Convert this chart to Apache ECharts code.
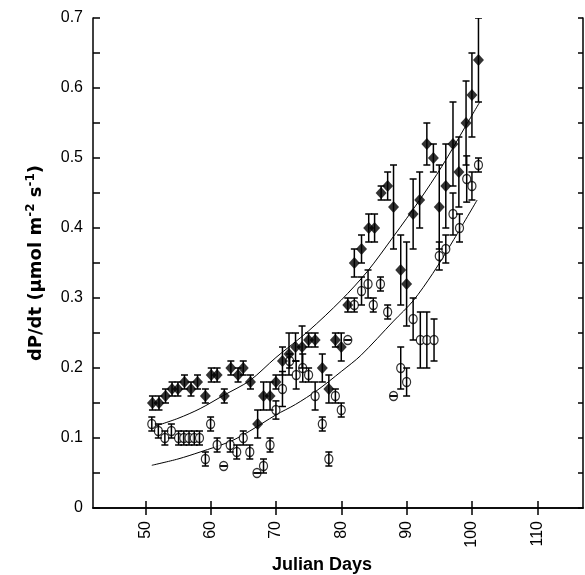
<!DOCTYPE html>
<html>
<head>
<meta charset="utf-8">
<script src="https://cdn.jsdelivr.net/npm/echarts@6/dist/echarts.min.js"></script>
<style>
html,body{margin:0;padding:0;background:#fff;}
#chart{width:585px;height:575px;}
</style>
</head>
<body>
<div id="chart"></div>
<script>
// Filled diamonds
const days1 = [51.1,52.1,53.1,54.1,55.0,56.0,57.0,58.0,59.2,60.1,61.0,62.1,63.1,64.2,65.0,66.1,67.2,68.1,69.1,70.0,71.0,72.0,73.0,74.0,75.0,76.0,77.1,78.1,79.1,80.0,81.0,82.0,83.1,84.2,85.1,86.1,87.1,88.0,89.1,90.0,91.0,92.0,93.1,94.1,95.0,96.0,97.1,98.0,99.1,100.0,101.0];
const vals1 = [0.15,0.15,0.16,0.17,0.17,0.18,0.17,0.18,0.16,0.19,0.19,0.16,0.20,0.19,0.20,0.18,0.12,0.16,0.16,0.18,0.21,0.22,0.23,0.23,0.24,0.24,0.20,0.17,0.24,0.23,0.29,0.35,0.37,0.40,0.40,0.45,0.46,0.43,0.34,0.32,0.42,0.44,0.52,0.50,0.43,0.46,0.52,0.48,0.55,0.59,0.64];
const errs1 = [0.01,0.01,0.01,0.01,0.01,0.01,0.01,0.01,0.01,0.01,0.01,0.01,0.01,0.01,0.01,0.01,0.02,0.02,0.02,0.01,0.02,0.03,0.02,0.03,0.01,0.01,0.02,0.02,0.01,0.02,0.01,0.02,0.02,0.02,0.02,0.01,0.02,0.06,0.05,0.06,0.05,0.04,0.03,0.02,0.06,0.06,0.06,0.05,0.06,0.06,0.06];
// Open circles
const days2 = [51.0,52.0,53.0,54.0,55.1,55.9,56.7,57.5,58.3,59.2,60.0,61.0,62.0,63.0,64.0,65.0,66.0,67.1,68.1,69.1,70.0,71.0,72.1,73.1,74.1,75.0,76.0,77.1,78.1,79.1,80.0,81.0,82.0,83.1,84.1,84.9,86.0,87.1,88.0,89.1,90.0,91.0,92.1,93.1,94.2,95.0,96.0,97.1,98.1,99.2,100.0,101.0];
const vals2 = [0.12,0.11,0.10,0.11,0.10,0.10,0.10,0.10,0.10,0.07,0.12,0.09,0.06,0.09,0.08,0.10,0.08,0.05,0.06,0.09,0.14,0.17,0.21,0.19,0.20,0.19,0.16,0.12,0.07,0.16,0.14,0.24,0.29,0.31,0.32,0.29,0.32,0.28,0.16,0.20,0.18,0.27,0.24,0.24,0.24,0.36,0.37,0.42,0.40,0.47,0.46,0.49];
const errs2 = [0.01,0.01,0.01,0.01,0.01,0.01,0.01,0.01,0.01,0.01,0.01,0.01,0.00,0.01,0.01,0.01,0.01,0.00,0.01,0.01,0.013,0.025,0.01,0.02,0.02,0.01,0.02,0.01,0.01,0.01,0.01,0.00,0.01,0.02,0.02,0.01,0.01,0.01,0.00,0.03,0.02,0.03,0.04,0.04,0.03,0.02,0.02,0.03,0.02,0.033,0.02,0.01];
// Fitted curves
const fitUpperDays = [51.2,55,58.4,62,66,70,75,80,84,88,92,95.4,99,101.2];
const fitUpperVals = [0.116,0.128,0.142,0.161,0.182,0.215,0.253,0.297,0.338,0.388,0.44,0.488,0.545,0.58];
const fitLowerDays = [51,55,58.4,63,66,70,73,76.3,80,83,88,91,94,97,100.8];
const fitLowerVals = [0.061,0.07,0.08,0.095,0.11,0.133,0.148,0.168,0.195,0.218,0.267,0.296,0.335,0.38,0.44];
// Ticks
const xTicks = [50,60,70,80,90,100,110];
const yTickLabels = [0,0.1,0.2,0.3,0.4,0.5,0.6,0.7];

const FONT = '"Liberation Sans", Arial, sans-serif';
const TFONT = '"DejaVu Sans", sans-serif';
const chart = echarts.init(document.getElementById('chart'), null, {renderer:'canvas'});

function pairs(xs, ys){ return xs.map((x,i)=>[x, ys[i]]); }
function errSeries(xs, ys, es, z){
  return {
    type:'custom', z:z, clip:true, silent:true,
    data: xs.map((x,i)=>[x, ys[i]-es[i], ys[i]+es[i]]),
    encode:{x:0, y:[1,2]},
    renderItem:function(params, api){
      const x = api.value(0);
      const lo = api.coord([x, api.value(1)]);
      const hi = api.coord([x, api.value(2)]);
      const w = 3.5;
      const st = {stroke:'#000', lineWidth:1.5};
      return {type:'group', children:[
        {type:'line', shape:{x1:lo[0],y1:lo[1],x2:hi[0],y2:hi[1]}, style:st},
        {type:'line', shape:{x1:lo[0]-w,y1:lo[1],x2:lo[0]+w,y2:lo[1]}, style:st},
        {type:'line', shape:{x1:hi[0]-w,y1:hi[1],x2:hi[0]+w,y2:hi[1]}, style:st}
      ]};
    }
  };
}

const axisLine = {show:true, lineStyle:{color:'#000', width:1.5}};
const option = {
  animation:false,
  backgroundColor:'#fff',
  grid:{left:93, right:2, top:18, bottom:67, containLabel:false, outerBoundsMode:'none'},
  xAxis:[{
    type:'value', min:42, max:117, position:'bottom',
    axisLine:axisLine,
    axisTick:{show:true, inside:true, length:7, customValues:xTicks, lineStyle:{color:'#000', width:1.5}},
    axisLabel:{show:true, rotate:90, margin:13, customValues:xTicks, color:'#000', fontSize:16, fontFamily:FONT},
    splitLine:{show:false},
    name:'Julian Days', nameLocation:'middle', nameGap:48,
    nameTextStyle:{fontSize:18, fontWeight:'bold', color:'#000', fontFamily:FONT, padding:[0,32,0,0]}
  },{
    type:'value', min:42, max:117, position:'top',
    axisLine:axisLine,
    axisTick:{show:true, inside:true, length:7, customValues:xTicks, lineStyle:{color:'#000', width:1.5}},
    axisLabel:{show:false}, splitLine:{show:false}
  }],
  yAxis:[{
    type:'value', min:0, max:0.7, interval:0.05, position:'left',
    axisLine:axisLine,
    axisTick:{show:true, inside:true, length:7, lineStyle:{color:'#000', width:1.5}},
    axisLabel:{show:true, margin:10, customValues:yTickLabels, color:'#000', fontSize:16, fontFamily:FONT,
      formatter:function(v){ return v===0 ? '0' : (Math.round(v*10)/10).toFixed(1); }},
    splitLine:{show:false},
    name:'dP/dt (μmol m{sup|-2} s{sup|-1})', nameLocation:'middle', nameGap:45, nameRotate:90,
    nameTextStyle:{fontSize:18, fontWeight:'bold', color:'#000', fontFamily:TFONT, lineHeight:23,
      rich:{sup:{fontSize:12, fontWeight:'bold', color:'#000', fontFamily:TFONT, verticalAlign:'top', lineHeight:23, padding:[0,0,8,0]}}}
  },{
    type:'value', min:0, max:0.7, interval:0.05, position:'right',
    axisLine:axisLine,
    axisTick:{show:true, inside:true, length:5, lineStyle:{color:'#000', width:1.5}},
    axisLabel:{show:false}, splitLine:{show:false}
  }],
  series:[
    {type:'line', z:1, data:pairs(fitUpperDays, fitUpperVals), smooth:0.3, symbol:'none', lineStyle:{color:'#000', width:1}},
    {type:'line', z:1, data:pairs(fitLowerDays, fitLowerVals), smooth:0.3, symbol:'none', lineStyle:{color:'#000', width:1}},
    {type:'scatter', z:2, data:pairs(days2, vals2), symbol:'circle', symbolSize:[8,9],
      itemStyle:{color:'#fff', borderColor:'#000', borderWidth:1.3}},
    errSeries(days2, vals2, errs2, 3),
    errSeries(days1, vals1, errs1, 4),
    {type:'scatter', z:5, data:pairs(days1, vals1), symbol:'diamond', symbolSize:[11,12],
      itemStyle:{color:'#000'}}
  ]
};
chart.setOption(option);
</script>
</body>
</html>
